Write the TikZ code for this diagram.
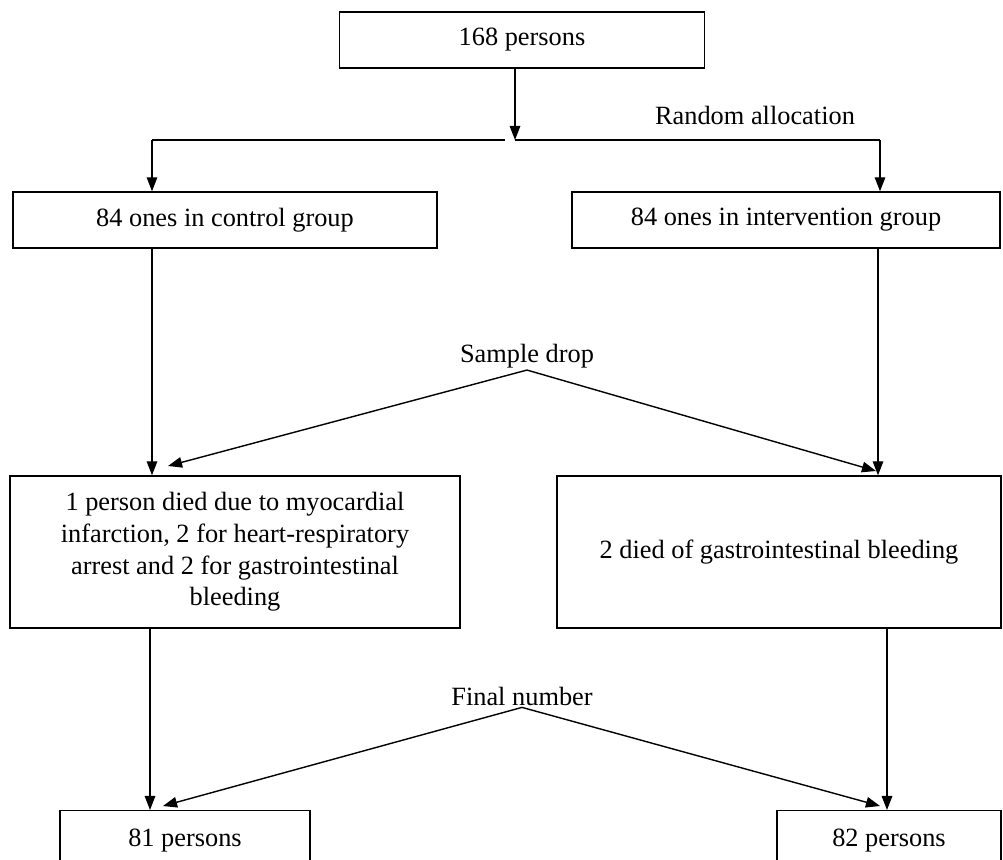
\documentclass[tikz,border=0pt]{standalone}
\usepackage{fontspec}
\setmainfont{Liberation Serif}
\usepackage{tikz}
\usetikzlibrary{arrows.meta, positioning, calc}

\begin{document}
\begin{tikzpicture}[x=0.02cm, y=-0.02cm,
  every node/.style={font=\fontsize{15}{18}\selectfont},
  box/.style={draw, thick, align=center, inner sep=2pt},
  lastbox/.style={draw, thick, anchor=north, inner sep=0pt, text height=0.72cm, text depth=1.6cm},
  arr/.style={-{Triangle[length=8pt, width=6pt]}, thick},
  tag/.style={inner sep=1pt}]
\useasboundingbox (0,0) rectangle (1003,859);

% ============= TOP: all persons and random allocation =============
\node[box, minimum width=7.3cm, minimum height=1.12cm] (all) at (522,40) {168 persons};
\coordinate (split) at (515,140);
\coordinate (splitL) at (152,140);
\coordinate (splitR) at (880,140);
\node[tag] (alloc) at (755,115) {Random allocation};

\draw[arr] (all.south -| split) -- (split);
\draw[thick] (splitL) -- ([xshift=-0.2cm]split);
\draw[thick] (split) -- (splitR);

% --- the two groups ---
\node[box, minimum width=8.48cm, minimum height=1.12cm] (ctrl) at (225,220) {84 ones in control group};
\node[box, minimum width=8.56cm, minimum height=1.12cm] (intv) at (786,220) {84 ones in intervention group};
\draw[arr] (splitL) -- (splitL |- ctrl.north);
\draw[arr] (splitR) -- (splitR |- intv.north);

% ============= MIDDLE: sample drop =============
\node[box, minimum width=9cm, minimum height=3.04cm] (diedL) at (235,552)
  {1 person died due to myocardial\\ infarction, 2 for heart-respiratory\\ arrest and 2 for gastrointestinal\\ bleeding};
\node[box, minimum width=8.88cm, minimum height=3.04cm] (diedR) at (779,552)
  {2 died of gastrointestinal bleeding};
\node[tag] (drop) at (527,356) {Sample drop};

\draw[arr] (ctrl.south -| splitL) -- (splitL |- diedL.north);
\draw[arr] (intv.south -| 878,0) -- (878,0 |- diedR.north);
% diagonal arrows from the label
\draw[arr] (drop.south) -- (168,466);
\draw[arr] (drop.south) -- (876,471);

% ============= BOTTOM: final number =============
\node[lastbox, minimum width=5cm] (lastL) at (185,810) {81 persons};
\node[lastbox, minimum width=4.48cm] (lastR) at (889,810) {82 persons};
\node[tag] (final) at (522,696) {Final number};

\draw[arr] (diedL.south -| 150,0) -- (150,0 |- lastL.north);
\draw[arr] (diedR.south -| 887,0) -- (887,0 |- lastR.north);
\draw[arr] (final.south) -- (163,806);
\draw[arr] (final.south) -- (880,806);
\end{tikzpicture}
\end{document}
